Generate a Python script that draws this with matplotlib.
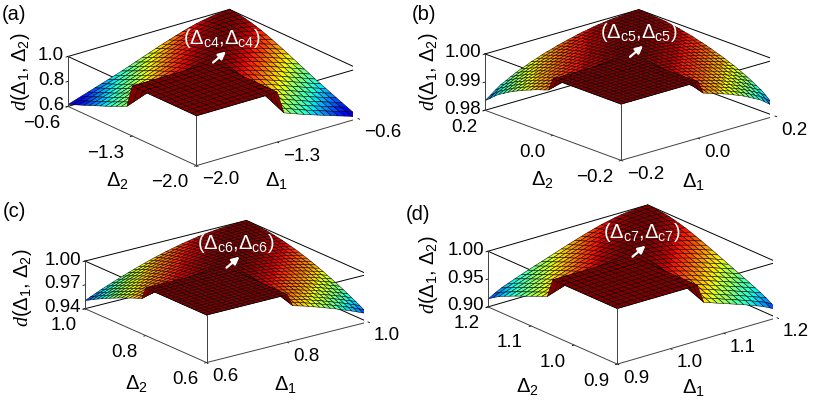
import numpy as np
import matplotlib
matplotlib.use('Agg')
import matplotlib.pyplot as plt
from matplotlib.colors import Normalize
from mpl_toolkits.mplot3d import proj3d

plt.rcParams['font.family'] = ['Liberation Sans', 'DejaVu Sans']
plt.rcParams['mathtext.fontset'] = 'custom'
plt.rcParams['mathtext.rm'] = 'Liberation Sans'
plt.rcParams['mathtext.it'] = 'Liberation Serif:italic'
plt.rcParams['mathtext.bf'] = 'Liberation Sans:bold'

# --- Data ---
panel_tags = ['(a)', '(b)', '(c)', '(d)']
crit_names = ['c4', 'c5', 'c6', 'c7']
delta_lo = [-2.0, -0.2, 0.6, 0.9]
delta_hi = [-0.6, 0.2, 1.0, 1.2]
delta_crit = [-1.3, 0.0, 0.8, 1.05]
delta_ticks = [[-2.0, -1.3, -0.6], [-0.2, 0.0, 0.2], [0.6, 0.8, 1.0], [0.9, 1.0, 1.1, 1.2]]
d_ticks = [[0.6, 0.8, 1.0], [0.98, 0.99, 1.00], [0.94, 0.97, 1.00], [0.90, 0.95, 1.00]]
d_decimals = [1, 2, 2, 2]
flat_level = 1.0   # d inside the square where both deltas are below the critical value

# d against |Delta1 - Delta2| (one value per grid step) outside that square
profile_a = [1.000, 0.998, 0.993, 0.984, 0.974, 0.962, 0.948, 0.932, 0.914,
             0.896, 0.878, 0.858, 0.838, 0.818, 0.798, 0.778, 0.758, 0.740,
             0.722, 0.704, 0.686, 0.668, 0.651, 0.633, 0.615]
profile_b = [1.0000, 1.0000, 0.9999, 0.9998, 0.9996, 0.9995, 0.9993, 0.9990,
             0.9988, 0.9985, 0.9981, 0.9978, 0.9974, 0.9969, 0.9965, 0.9960,
             0.9955, 0.9949, 0.9944, 0.9938, 0.9931, 0.9925, 0.9917, 0.9910,
             0.9902, 0.9893, 0.9883, 0.9874, 0.9861, 0.9847, 0.9834]
profile_c = [1.0000, 0.9999, 0.9997, 0.9994, 0.9989, 0.9983, 0.9976, 0.9967,
             0.9958, 0.9949, 0.9936, 0.9923, 0.9910, 0.9894, 0.9878, 0.9862,
             0.9843, 0.9824, 0.9805, 0.9783, 0.9761, 0.9739, 0.9715, 0.9691,
             0.9667, 0.9641, 0.9615, 0.9589, 0.9560, 0.9531, 0.9502]
profile_d = [1.000, 0.9997, 0.999, 0.9978, 0.9962, 0.994, 0.9913, 0.9886,
             0.9852, 0.9817, 0.9779, 0.974, 0.970, 0.9658, 0.9617, 0.9575,
             0.9533, 0.9492, 0.945, 0.9408, 0.9363, 0.9318, 0.927, 0.921, 0.914]
profiles = [profile_a, profile_b, profile_c, profile_d]

# --- Layout (pixels in the 814x402 picture) ---
W_PX, H_PX = 814, 402
views = [(21.5, -128.5), (19.0, -131.5), (19.5, -127.0), (21.0, -129.0)]
z_aspect = [0.26, 0.29, 0.25, 0.29]
box_targets = [(68, 358, 12, 165), (485, 775, 17, 155), (85, 368, 222, 363), (488, 777, 208, 363)]
tag_pos = [(14, 14), (424, 14), (14, 212), (418, 215)]
zlabel_pos = [(21, 72), (428, 72), (22, 288), (428, 275)]
x_label_pos = [(276, 181), (693, 182), (285, 385), (693, 388)]
y_label_pos = [(117, 181), (542, 180), (136, 384), (527, 387)]
note_offset = (9, 25)
TICK_FS = 13.5
LABEL_FS = 14.5
JET = plt.get_cmap('jet', 64)


def fmt(v, nd):
    return f'{v:.{nd}f}'.replace('-', '\u2212')


def surface_grid(lo, hi, crit, profile):
    prof = np.asarray(profile)
    n = len(prof)
    g = np.linspace(lo, hi, n)
    X, Y = np.meshgrid(g, g)
    k = np.arange(n)
    Z = prof[np.abs(k[None, :] - k[:, None])]
    inside = (X <= crit + 1e-9) & (Y <= crit + 1e-9)
    Z = np.where(inside, flat_level, Z)
    return X, Y, Z


def box_edges(lo, hi, zlo, zhi):
    back, front = [], []
    c = [lo, hi]
    for z in (zlo, zhi):
        for y in c:
            seg = ([lo, hi], [y, y], [z, z])
            (front if (y == lo and z == zlo) else back).append(seg)
        for x in c:
            seg = ([x, x], [lo, hi], [z, z])
            (front if (x == lo and z == zlo) else back).append(seg)
    for x in c:
        for y in c:
            seg = ([x, x], [y, y], [zlo, zhi])
            (back if (x == hi and y == hi) else front).append(seg)
    return back, front


def to_display(ax, x, y, z):
    xs, ys, _ = proj3d.proj_transform(np.atleast_1d(x), np.atleast_1d(y), np.atleast_1d(z), ax.get_proj())
    return ax.transData.transform(np.column_stack([xs, ys]))


def place_box(fig, ax, lo, hi, zlo, zhi, target):
    cx, cy, cz = np.meshgrid([lo, hi], [lo, hi], [zlo, zhi])
    tx0, tx1, ty_top, ty_bot = target
    ty0, ty1 = H_PX - ty_bot, H_PX - ty_top
    for _ in range(5):
        fig.canvas.draw()
        d = to_display(ax, cx.ravel(), cy.ravel(), cz.ravel())
        x0, x1 = d[:, 0].min(), d[:, 0].max()
        y0, y1 = d[:, 1].min(), d[:, 1].max()
        s = (tx1 - tx0) / (x1 - x0)
        pos = ax.get_position(original=True)
        acx = (pos.x0 + pos.width / 2) * W_PX
        acy = (pos.y0 + pos.height / 2) * H_PX
        ncx = (tx0 + tx1) / 2 - s * ((x0 + x1) / 2 - acx)
        ncy = (ty0 + ty1) / 2 - s * ((y0 + y1) / 2 - acy)
        nw, nh = pos.width * W_PX * s, pos.height * H_PX * s
        ax.set_position([(ncx - nw / 2) / W_PX, (ncy - nh / 2) / H_PX, nw / W_PX, nh / H_PX])


def pix_text(fig, x, y, s, **kw):
    # x, y in display pixels (origin bottom left)
    return fig.text(x / W_PX, y / H_PX, s, **kw)


def draw_panel(fig, i):
    lo, hi, crit = delta_lo[i], delta_hi[i], delta_crit[i]
    zt = d_ticks[i]
    zlo, zhi = zt[0], zt[-1]
    ax = fig.add_axes([0.1 + 0.5 * (i % 2), 0.55 - 0.5 * (i // 2), 0.35, 0.35],
                      projection='3d', computed_zorder=False)
    ax.set_proj_type('ortho')
    ax.view_init(elev=views[i][0], azim=views[i][1])
    ax.set_box_aspect((1, 1, z_aspect[i]))
    ax.patch.set_alpha(0)
    ax.grid(False)
    for axis in (ax.xaxis, ax.yaxis, ax.zaxis):
        axis.pane.fill = False
        axis.pane.set_edgecolor('none')
        axis.line.set_color('none')
        axis._axinfo['tick']['inward_factor'] = 0.15
        axis._axinfo['tick']['outward_factor'] = 0.0
        axis._axinfo['tick']['linewidth'] = {True: 0.6, False: 0.4}
    ax.set_xlim(lo, hi)
    ax.set_ylim(lo, hi)
    ax.set_zlim(zlo, zhi)

    back, front = box_edges(lo, hi, zlo, zhi)
    for seg in back:
        ax.plot(*seg, color='k', lw=0.7, zorder=1)

    # faceted colouring: each cell takes the colour of its first corner
    X, Y, Z = surface_grid(lo, hi, crit, profiles[i])
    colors = JET(Normalize(zlo, zhi)(Z))
    ax.plot_surface(X, Y, Z, facecolors=colors, edgecolor='k',
                    linewidth=0.35, shade=False, rstride=1, cstride=1,
                    antialiased=True, zorder=2)
    for seg in front:
        ax.plot(*seg, color='0.25', lw=0.7, zorder=5)

    ticks = delta_ticks[i]
    ax.set_xticks(ticks)
    ax.set_yticks(ticks)
    ax.set_zticks(zt)
    ax.set_xticklabels([])
    ax.set_yticklabels([])
    ax.set_zticklabels([])

    place_box(fig, ax, lo, hi, zlo, zhi, box_targets[i])
    fig.canvas.draw()

    # tick labels placed next to the projected box edges
    for v in ticks:
        px, py = to_display(ax, lo, v, zlo)[0]
        pix_text(fig, px - 8, py - 16, fmt(v, 1), ha='right', va='center', fontsize=TICK_FS)
        px, py = to_display(ax, v, lo, zlo)[0]
        pix_text(fig, px + 6, py - 13, fmt(v, 1), ha='left', va='center', fontsize=TICK_FS)
    for v in zt:
        px, py = to_display(ax, lo, hi, v)[0]
        pix_text(fig, px - 4, py + 2, fmt(v, d_decimals[i]), ha='right', va='center', fontsize=TICK_FS)

    # arrow and label at the critical point on the plateau
    px, py = to_display(ax, crit, crit, flat_level)[0]
    ax.annotate('', xy=(px + 13, py + 11), xytext=(px, py),
                xycoords='figure pixels', textcoords='figure pixels',
                arrowprops=dict(arrowstyle='-|>', color='white', lw=1.6,
                                mutation_scale=11, shrinkA=0, shrinkB=0),
                zorder=10)
    name = crit_names[i]
    ax.annotate(rf'$(\Delta_{{\mathrm{{{name}}}}}{{,}}\Delta_{{\mathrm{{{name}}}}})$',
                xy=(px + note_offset[0], py + note_offset[1]), xycoords='figure pixels',
                ha='center', va='center', color='white', fontsize=LABEL_FS, zorder=10)

    pix_text(fig, tag_pos[i][0], H_PX - tag_pos[i][1], panel_tags[i],
             ha='center', va='center', fontsize=LABEL_FS)
    pix_text(fig, zlabel_pos[i][0], H_PX - zlabel_pos[i][1],
             r'$\mathit{d(}\Delta_{\mathit{1}}\mathit{,}\ \Delta_{\mathit{2}}\mathit{)}$',
             rotation=90, ha='center', va='center', fontsize=LABEL_FS)
    pix_text(fig, x_label_pos[i][0], H_PX - x_label_pos[i][1],
             r'$\Delta_{\mathit{1}}$', ha='center', va='center', fontsize=LABEL_FS)
    pix_text(fig, y_label_pos[i][0], H_PX - y_label_pos[i][1],
             r'$\Delta_{\mathit{2}}$', ha='center', va='center', fontsize=LABEL_FS)
    return ax


def main():
    fig = plt.figure(figsize=(W_PX / 100, H_PX / 100), dpi=100)
    for i in range(4):
        draw_panel(fig, i)
    fig.savefig('out.png', dpi=100)


if __name__ == '__main__':
    main()
